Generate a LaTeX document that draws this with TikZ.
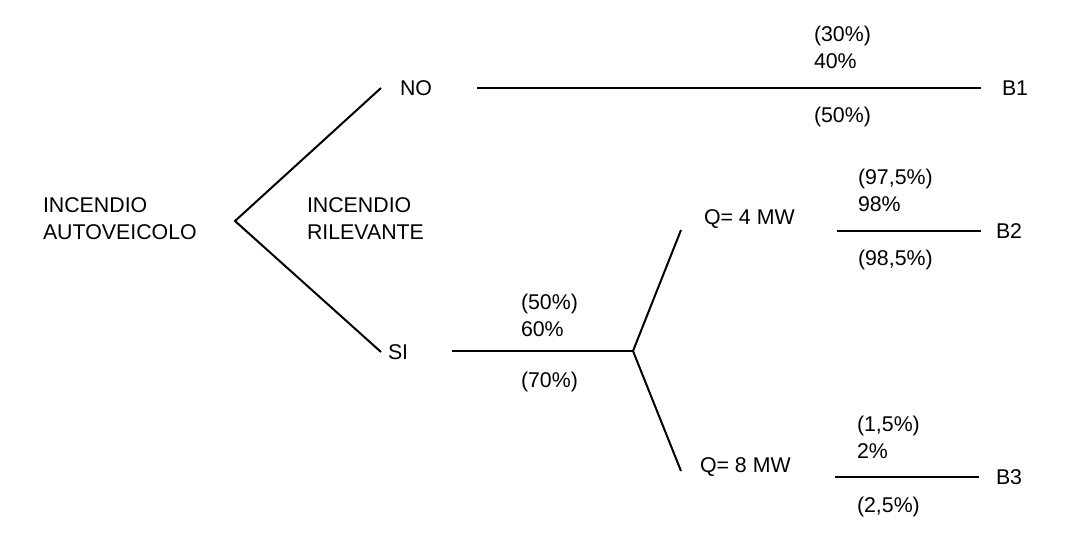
\documentclass[tikz,border=0pt]{standalone}
\usepackage{fontspec}
\setmainfont{Liberation Sans}
\tikzset{every picture/.style={line width=1.5pt}}
\tikzset{lbl/.style={anchor=west,inner sep=0pt,align=left,font=\fontsize{16}{20.25}\selectfont}}

\begin{document}
\begin{tikzpicture}[x=0.75pt,y=0.75pt,yscale=-1,xscale=1]
\useasboundingbox (0,0) rectangle (1088,552);
% Root and first level
\node [lbl] (root) at (42,219) {INCENDIO\\AUTOVEICOLO};
\node [lbl] (ril) at (306,219) {INCENDIO\\RILEVANTE};
\coordinate (r0) at (235,221);
\coordinate (no0) at (381,88);
\coordinate (si0) at (381,352);
\node [lbl] (no) at (399,88) {NO};
\node [lbl] (si) at (387,352) {SI};
\draw (no0) -- (r0) -- (si0) ;
% NO branch
\coordinate (b1a) at (477,88);
\coordinate (b1b) at (981,88);
\draw (b1a) -- (b1b) ;
\node [lbl] (b1) at (1001,88) {B1};
\node [lbl] (pno) at (813,47) {(30\%)\\40\%};
\node [lbl] (pnob) at (813,117) {(50\%)};
% SI branch
\coordinate (sia) at (452,351);
\coordinate (jn) at (633,351);
\draw (sia) -- (jn) ;
\node [lbl] (psi) at (520,315) {(50\%)\\60\%};
\node [lbl] (psib) at (520,382) {(70\%)};
\coordinate (q4e) at (681,230);
\coordinate (q8e) at (681,471);
\draw (q4e) -- (jn) -- (q8e) ;
\node [lbl] (q4) at (703,219) {Q= 4 MW};
\node [lbl] (q8) at (699,467) {Q= 8 MW};
% Q = 4 MW
\coordinate (b2a) at (837,231);
\coordinate (b2b) at (981,231);
\draw (b2a) -- (b2b) ;
\node [lbl] (b2) at (995,231) {B2};
\node [lbl] (p4) at (857,190) {(97,5\%)\\98\%};
\node [lbl] (p4b) at (857,260) {(98,5\%)};
% Q = 8 MW
\coordinate (b3a) at (835,477);
\coordinate (b3b) at (979,477);
\draw (b3a) -- (b3b) ;
\node [lbl] (b3) at (995,477) {B3};
\node [lbl] (p8) at (856,437) {(1,5\%)\\2\%};
\node [lbl] (p8b) at (856,507) {(2,5\%)};
\end{tikzpicture}
\end{document}
